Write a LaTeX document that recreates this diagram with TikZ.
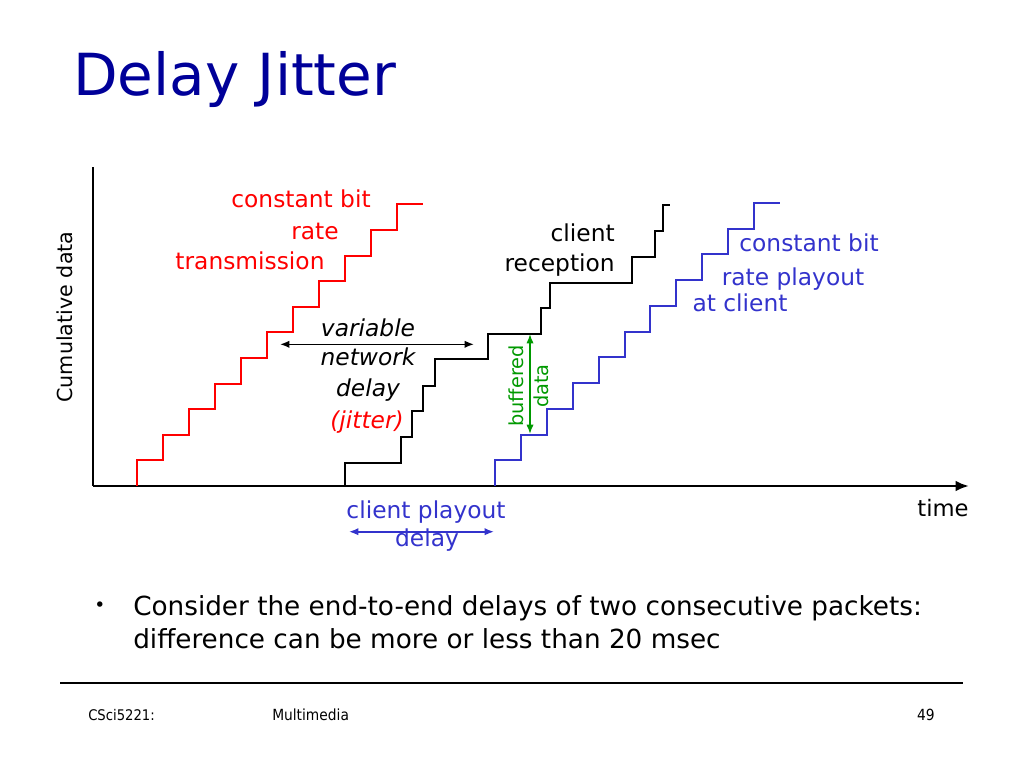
\documentclass[tikz,border=0pt]{standalone}
\usepackage{fontspec}
\setmainfont{DejaVu Sans}
\newfontfamily\condfont{DejaVu Sans Condensed}
\usetikzlibrary{arrows.meta}

\definecolor{titleblue}{RGB}{0,0,153}
\definecolor{playblue}{RGB}{51,51,204}
\definecolor{bufgreen}{RGB}{0,153,0}

\begin{document}
\begin{tikzpicture}[x=0.75pt,y=-0.75pt,
    stair/.style={line width=1.5pt},
    lbl/.style={inner sep=0pt,anchor=base,font=\fontsize{17.5}{21}\selectfont},
    dbl/.style={line width=1.2pt,{Latex[length=7pt,width=5.5pt]}-{Latex[length=7pt,width=5.5pt]}}]
        \useasboundingbox (0,0) rectangle (1024,768);

        % title
        \node[inner sep=0pt,anchor=base west,text=titleblue,font=\fontsize{43.5}{50}\selectfont] (title) at (73,95) {Delay Jitter};

        % axes
        \coordinate (top) at (93,167);
        \coordinate (O) at (93,486);
        \coordinate (end) at (969,486);
        \draw[line width=2.2pt] (top) -- (O);
        \draw[line width=2.2pt,-{Latex[length=10pt,width=8pt]}] (O) -- (end);
        \node[lbl,font=\fontsize{17}{20}\selectfont] (time) at (943,516.7) {time};
        \node[inner sep=0pt,rotate=90,font=\fontsize{15.5}{18}\selectfont] (cum) at (65,317) {Cumulative data};

        % staircases
        \draw[stair,red] (136.7,486) |- ++(26,-25.6) |- ++(26,-25.6) |- ++(26,-25.6) |- ++(26,-25.6)
            |- ++(26,-25.6) |- ++(26,-25.6) |- ++(26,-25.6) |- ++(26,-25.6) |- ++(26,-25.6)
            |- ++(26,-25.6) |- ++(26,-25.6);
        \draw[stair] (345,486) |- (400.7,462.7) |- (411.7,436.7) |- (423.3,410.7) |- (435,386)
            |- (488.3,359.3) |- (541,334) |- (550,308.3) |- (631.7,283.3) |- (655,256.7)
            |- (663.3,230.7) |- (670,205);
        \draw[stair,playblue] (495,486) |- ++(25.9,-25.75) |- ++(25.9,-25.75) |- ++(25.9,-25.75)
            |- ++(25.9,-25.75) |- ++(25.9,-25.75) |- ++(25.9,-25.75) |- ++(25.9,-25.75)
            |- ++(25.9,-25.75) |- ++(25.9,-25.75) |- ++(25.9,-25.75) |- ++(25.9,-25.75);

        % labels
        \node[lbl,text=red] (cbr1) at (301,207) {constant bit};
        \node[lbl,text=red] (cbr2) at (315,239) {rate};
        \node[lbl,text=red] (cbr3) at (250,269) {transmission};

        \node[lbl,font=\fontsize{17.5}{21}\selectfont\itshape] (var1) at (368,336) {variable};
        \node[lbl,font=\fontsize{17.5}{21}\selectfont\itshape] (var2) at (368,365.7) {network};
        \node[lbl,font=\fontsize{17.5}{21}\selectfont\itshape] (var3) at (368,396) {delay};
        \node[lbl,text=red,font=\fontsize{17.5}{21}\selectfont\itshape] (var4) at (367,428) {(jitter)};

        \node[lbl,anchor=base east] (rec1) at (615,241.7) {client};
        \node[lbl,anchor=base east] (rec2) at (615,271) {reception};

        \node[lbl,text=playblue] (play1) at (809,251.7) {constant bit};
        \node[lbl,text=playblue] (play2) at (793,285) {rate playout};
        \node[lbl,text=playblue] (play3) at (740,311.7) {at client};

        \node[lbl,text=playblue] (cpd1) at (426,518.3) {client playout};
        \node[lbl,text=playblue] (cpd2) at (427,546.7) {delay};

        \node[inner sep=0pt,rotate=90,text=bufgreen,align=center,
            font=\fontsize{14.5}{19}\selectfont] (buf) at (529,386) {buffered\\data};

        % arrows
        \coordinate (netL) at (280,344.3);
        \coordinate (netR) at (474,344.3);
        \draw[dbl] (netL) -- (netR);

        \coordinate (bufT) at (530,334);
        \coordinate (bufB) at (530,434);
        \draw[dbl,bufgreen] (bufT) -- (bufB);

        \coordinate (cpdL) at (349,531.7);
        \coordinate (cpdR) at (494,531.7);
        \draw[dbl,playblue] (cpdL) -- (cpdR);

        % bullet text
        \node[inner sep=0pt,anchor=base,font=\fontsize{14}{16}\selectfont] (dot) at (100,611) {\textbullet};
        \node[inner sep=0pt,anchor=base west,font=\fontsize{19.7}{26}\selectfont] (b1) at (133,615) {Consider the end-to-end delays of two consecutive packets:};
        \node[inner sep=0pt,anchor=base west,font=\fontsize{19.7}{26}\selectfont] (b2) at (133,648) {difference can be more or less than 20 msec};

        % footer
        \coordinate (fl) at (60,683);
        \coordinate (fr) at (963,683);
        \draw[line width=0.8pt] (fl) -- (fr);
        \node[inner sep=0pt,anchor=base west,font=\condfont\fontsize{11}{13}\selectfont] (course) at (88,720) {CSci5221:};
        \node[inner sep=0pt,anchor=base west,font=\condfont\fontsize{11.5}{13}\selectfont] (topic) at (272,720) {Multimedia};
        \node[inner sep=0pt,anchor=base east,font=\condfont\fontsize{11.5}{13}\selectfont] (page) at (935,720) {49};
\end{tikzpicture}
\end{document}
